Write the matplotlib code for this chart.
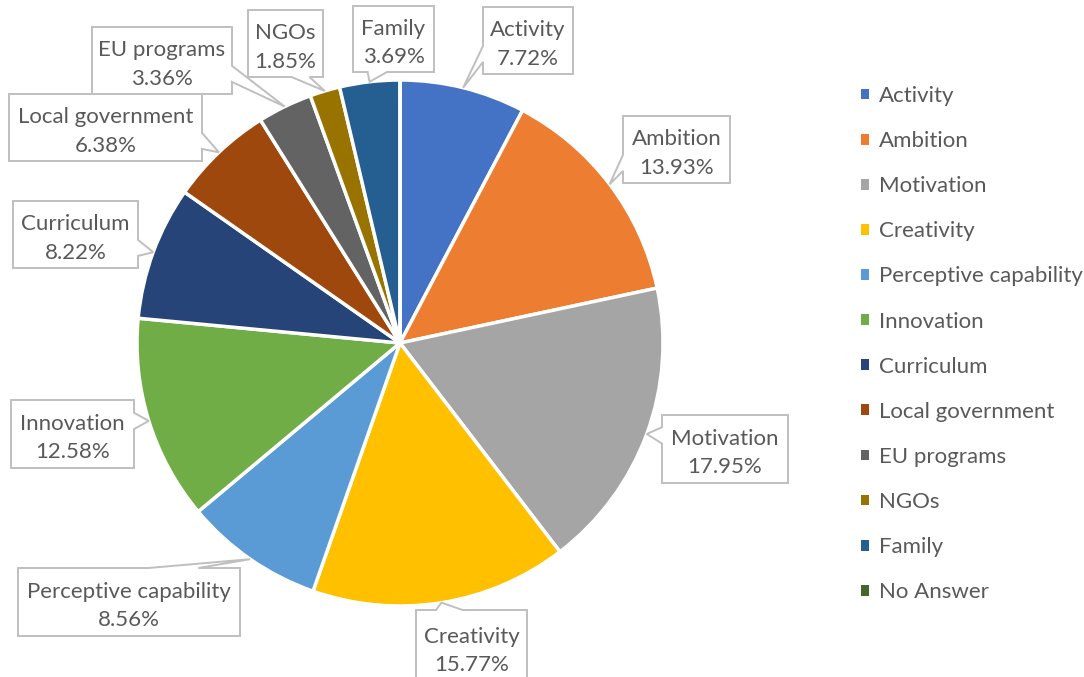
import matplotlib
matplotlib.use('Agg')
import matplotlib.pyplot as plt
from matplotlib.patches import Polygon, Patch
import numpy as np

# ---------------- data ----------------
categories = ['Activity', 'Ambition', 'Motivation', 'Creativity',
              'Perceptive capability', 'Innovation', 'Curriculum',
              'Local government', 'EU programs', 'NGOs', 'Family', 'No Answer']
values = [7.72, 13.93, 17.95, 15.77, 8.56, 12.58, 8.22, 6.38, 3.36, 1.85, 3.69, 0.0]

# ---------------- style / layout ----------------
colors = ['#4472C4', '#ED7D31', '#A5A5A5', '#FFC000', '#5B9BD5', '#70AD47',
          '#264478', '#9E480E', '#636363', '#997300', '#255E91', '#43682B']
W, H = 1084, 677
TEXT = '#595959'
BORDER = '#BFBFBF'
FONT = 'Lato'
FS = 16

# label boxes in pixel coords (x0, x1, ytop, ybottom), measured from the top
label_boxes = {
    'Activity': (483, 573, 7, 74),
    'Ambition': (623, 730, 116, 183),
    'Motivation': (662, 788, 415, 483),
    'Creativity': (416, 527, 610, 684),
    'Perceptive capability': (18, 240, 568, 636),
    'Innovation': (11, 134, 400, 468),
    'Curriculum': (13, 138, 201, 268),
    'Local government': (9, 202, 94, 161),
    'EU programs': (92, 232, 27, 94),
    'NGOs': (248, 323, 10, 77),
    'Family': (353, 434, 6, 72),
}

fig = plt.figure(figsize=(W / 100, H / 100), dpi=100)
ax = fig.add_axes([0, 0, 1, 1])
center = (400, H - 343)
radius = 263
wedges, _ = ax.pie(values, colors=colors, startangle=90, counterclock=False,
                   center=center, radius=radius,
                   wedgeprops=dict(edgecolor='white', linewidth=2.5))
ax.set_xlim(0, W)
ax.set_ylim(0, H)
ax.set_aspect('equal')
ax.axis('off')


def callout(x0, x1, y0, y1, tip):
    """Build a rectangle-with-pointer polygon (y-up coords, y0 bottom)."""
    cx, cy = (x0 + x1) / 2, (y0 + y1) / 2
    w, h = x1 - x0, y1 - y0
    dx = (tip[0] - cx) / (w / 2)
    dy = (tip[1] - cy) / (h / 2)
    if abs(dx) > abs(dy):
        side = 'right' if dx > 0 else 'left'
        L = h
        rel = np.clip((tip[1] - y0) / h, 0.3, 0.7)
        c = y0 + rel * h
    else:
        side = 'top' if dy > 0 else 'bottom'
        L = w
        rel = np.clip((tip[0] - x0) / w, 0.3, 0.7)
        c = x0 + rel * w
    bw = min(0.24 * L, 50)
    pts = [(x0, y0)]
    if side == 'bottom':
        pts += [(c - bw / 2, y0), tip, (c + bw / 2, y0)]
    pts += [(x1, y0)]
    if side == 'right':
        pts += [(x1, c - bw / 2), tip, (x1, c + bw / 2)]
    pts += [(x1, y1)]
    if side == 'top':
        pts += [(c + bw / 2, y1), tip, (c - bw / 2, y1)]
    pts += [(x0, y1)]
    if side == 'left':
        pts += [(x0, c + bw / 2), tip, (x0, c - bw / 2)]
    return pts


for wdg, cat, val in zip(wedges, categories, values):
    if cat not in label_boxes:
        continue
    mid = np.deg2rad((wdg.theta1 + wdg.theta2) / 2)
    tip = (center[0] + radius * np.cos(mid), center[1] + radius * np.sin(mid))
    bx0, bx1, btop, bbot = label_boxes[cat]
    y0, y1 = H - bbot, H - btop
    poly = Polygon(callout(bx0, bx1, y0, y1, tip), closed=True,
                   facecolor='white', edgecolor=BORDER, linewidth=1.4,
                   zorder=5)
    ax.add_patch(poly)
    ax.text((bx0 + bx1) / 2, (y0 + y1) / 2 - 4, f'{cat}\n{val:.2f}%',
            ha='center', va='center', fontsize=FS, color=TEXT,
            family=FONT, linespacing=1.55, zorder=6)

handles = [Patch(facecolor=c, edgecolor='none') for c in colors]
fig.legend(handles, categories, loc='upper left',
           bbox_to_anchor=(861 / W, 1 - 86 / H), frameon=False,
           prop=dict(family=FONT, size=FS), labelcolor=TEXT,
           handlelength=0.37, handleheight=0.37, handletextpad=0.45,
           labelspacing=1.13, borderpad=0, borderaxespad=0)

fig.savefig('out.png', dpi=100, facecolor='white')
